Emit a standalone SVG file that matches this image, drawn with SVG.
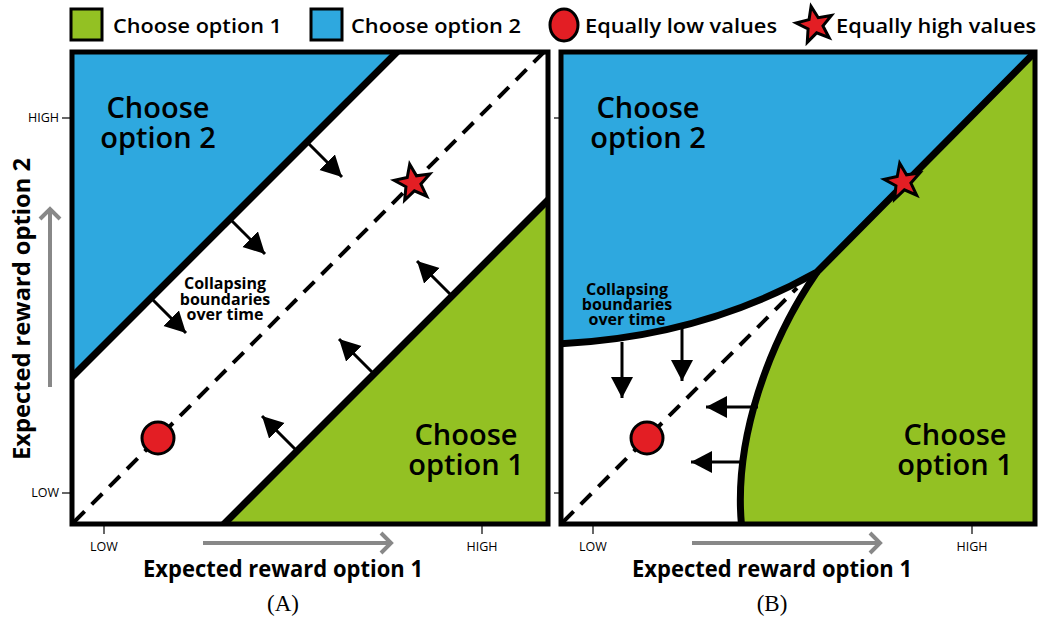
<svg xmlns="http://www.w3.org/2000/svg" width="1040" height="620" viewBox="0 0 1040 620">
<style>
.blue{fill:#2EA8DF}
.green{fill:#93C123}
.bnd{fill:none;stroke:#000;stroke-width:7;stroke-linejoin:round}
.dash{fill:none;stroke:#000;stroke-width:4;stroke-dasharray:15 10}
.arr{fill:none;stroke:#000;stroke-width:3;marker-end:url(#ah)}
.frame{fill:none;stroke:#000;stroke-width:5}
.lbl{font-family:"Open Sans","Noto Sans",sans-serif;font-weight:600;fill:#000}
.big{font-size:29px;text-anchor:middle}
.small{font-size:16px;font-weight:700;text-anchor:middle}
.leg{font-size:19px}
.axis{font-size:24px;font-weight:700;text-anchor:middle}
.tick{font-family:"Open Sans","Noto Sans",sans-serif;font-size:12.5px;fill:#000}
.tk{stroke:#000;stroke-width:1.2}
.gray{fill:none;stroke:#888;stroke-width:4}
.cap{font-family:"Liberation Serif",serif;font-size:23px;text-anchor:middle}
.red{fill:#E31E24;stroke:#000;stroke-width:3}
</style>
<defs>
<marker id="ah" markerUnits="userSpaceOnUse" markerWidth="24" markerHeight="24" refX="21" refY="11" orient="auto">
<path d="M0,0 L21,11 L0,22 Z" fill="#000"/>
</marker>
<path id="star" d="M0,-19 L4.70,-6.47 L18.07,-5.87 L7.61,2.47 L11.17,15.37 L0,8 L-11.17,15.37 L-7.61,2.47 L-18.07,-5.87 L-4.70,-6.47 Z"/>
<clipPath id="clipA"><rect x="72" y="52" width="476" height="472"/></clipPath>
<clipPath id="clipB"><rect x="561" y="52" width="474" height="472"/></clipPath>
</defs>
<rect width="1040" height="620" fill="#fff"/>

<g id="legend">
<rect x="71" y="9" width="31" height="31" class="green" stroke="#000" stroke-width="3"/>
<text x="113" y="33" class="lbl leg" textLength="169" lengthAdjust="spacingAndGlyphs">Choose option 1</text>
<rect x="311" y="9" width="31" height="31" class="blue" stroke="#000" stroke-width="3"/>
<text x="351" y="33" class="lbl leg" textLength="170" lengthAdjust="spacingAndGlyphs">Choose option 2</text>
<ellipse cx="564" cy="25" rx="14" ry="16" class="red"/>
<text x="585" y="33" class="lbl leg" textLength="192" lengthAdjust="spacingAndGlyphs">Equally low values</text>
<use href="#star" transform="translate(815,25) rotate(-12)" class="red"/>
<text x="836" y="33" class="lbl leg" textLength="200" lengthAdjust="spacingAndGlyphs">Equally high values</text>
</g>

<g id="panelA">
<rect x="72" y="52" width="476" height="472" fill="#fff"/>
<g clip-path="url(#clipA)">
<polygon class="blue" points="72,52 397,52 72,377"/>
<polygon class="green" points="224,524 548,524 548,200"/>
<line class="bnd" x1="60" y1="389" x2="409" y2="40"/>
<line class="bnd" x1="212" y1="536" x2="560" y2="188"/>
<line class="dash" x1="74" y1="522" x2="546" y2="50"/>
</g>
<g id="arrowsA">
<line class="arr" x1="307" y1="142" x2="342" y2="177"/>
<line class="arr" x1="230" y1="219" x2="265" y2="254"/>
<line class="arr" x1="151" y1="298" x2="186" y2="333"/>
<line class="arr" x1="452" y1="296" x2="417" y2="261"/>
<line class="arr" x1="374" y1="374" x2="339" y2="339"/>
<line class="arr" x1="297" y1="451" x2="262" y2="416"/>
</g>
<circle cx="158" cy="438" r="16" class="red"/>
<use href="#star" transform="translate(413,183) rotate(-10)" class="red"/>
<text class="lbl big" x="158" y="118">Choose<tspan x="158" dy="30">option 2</tspan></text>
<text class="lbl big" x="466" y="445">Choose<tspan x="466" dy="30">option 1</tspan></text>
<text class="lbl small" x="225" y="289">Collapsing<tspan x="225" dy="15.5">boundaries</tspan><tspan x="225" dy="15.5">over time</tspan></text>
<rect class="frame" x="72" y="52" width="476" height="472"/>
</g>

<g id="panelB">
<rect x="561" y="52" width="474" height="472" fill="#fff"/>
<g clip-path="url(#clipB)">
<path class="blue" d="M561,52 L1035,52 L817,272 Q700,338 561,344 Z"/>
<path class="green" d="M1035,52 L1035,524 L742,524 C732,440 770,340 817,272 Z"/>
<line class="dash" x1="563" y1="522" x2="797" y2="288"/>
<path class="bnd" d="M555,344 Q700,338 817,272 L1045,42"/>
<path class="bnd" d="M817,272 C770,340 732,440 742,530"/>
</g>
<g id="arrowsB">
<line class="arr" x1="622" y1="342" x2="622" y2="398"/>
<line class="arr" x1="682" y1="328" x2="682" y2="381"/>
<line class="arr" x1="758" y1="407" x2="706" y2="407"/>
<line class="arr" x1="744" y1="462" x2="691" y2="462"/>
</g>
<circle cx="647" cy="438" r="16" class="red"/>
<use href="#star" transform="translate(903,182) rotate(-10)" class="red"/>
<text class="lbl big" x="648" y="118">Choose<tspan x="648" dy="30">option 2</tspan></text>
<text class="lbl big" x="955" y="445">Choose<tspan x="955" dy="30">option 1</tspan></text>
<text class="lbl small" x="627" y="295">Collapsing<tspan x="627" dy="15">boundaries</tspan><tspan x="627" dy="15">over time</tspan></text>
<rect class="frame" x="561" y="52" width="474" height="472"/>
</g>

<g id="axes">
<line class="tk" x1="62" y1="118" x2="70" y2="118"/>
<line class="tk" x1="62" y1="493" x2="70" y2="493"/>
<text class="tick" x="59" y="122" text-anchor="end">HIGH</text>
<text class="tick" x="59" y="497" text-anchor="end">LOW</text>
<line class="tk" x1="554" y1="118" x2="559" y2="118"/>
<line class="tk" x1="554" y1="493" x2="559" y2="493"/>
<line class="tk" x1="104" y1="526" x2="104" y2="534"/>
<line class="tk" x1="482" y1="526" x2="482" y2="534"/>
<line class="tk" x1="593" y1="526" x2="593" y2="534"/>
<line class="tk" x1="972" y1="526" x2="972" y2="534"/>
<text class="tick" x="104" y="551" text-anchor="middle">LOW</text>
<text class="tick" x="482" y="551" text-anchor="middle">HIGH</text>
<text class="tick" x="593" y="551" text-anchor="middle">LOW</text>
<text class="tick" x="972" y="551" text-anchor="middle">HIGH</text>
<path class="gray" d="M203,543 L390,543 M381,533 L391,543 L381,553"/>
<path class="gray" d="M692,543 L879,543 M870,533 L880,543 L870,553"/>
<path class="gray" d="M50,387 L50,210 M40,219 L50,209 L60,219"/>
<text class="lbl axis" x="283" y="577" textLength="280" lengthAdjust="spacingAndGlyphs">Expected reward option 1</text>
<text class="lbl axis" x="772" y="577" textLength="280" lengthAdjust="spacingAndGlyphs">Expected reward option 1</text>
<text class="lbl axis" transform="translate(30,309) rotate(-90)" x="0" y="0" textLength="302" lengthAdjust="spacingAndGlyphs">Expected reward option 2</text>
<text class="cap" x="283" y="611">(A)</text>
<text class="cap" x="772" y="611">(B)</text>
</g>
</svg>
